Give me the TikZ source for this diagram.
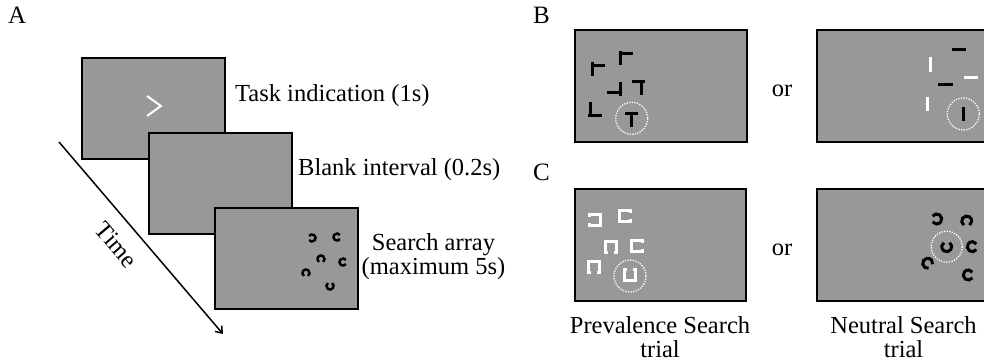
\documentclass[tikz,border=0pt]{standalone}
\usepackage{fontspec}
\setmainfont{Liberation Serif}
\usetikzlibrary{arrows.meta}
\definecolor{screen}{RGB}{152,152,152}
\tikzset{
  panel/.style={draw=black, line width=1.4pt, fill=screen, inner sep=0pt, outer sep=0pt, anchor=north west},
  lbl/.style={font=\fontsize{24.5}{28}\selectfont, inner sep=0pt},
  letter/.style={font=\fontsize{25}{30}\selectfont, inner sep=0pt, anchor=base west},
  bar/.style={line width=3pt},
  ringline/.style={line width=2.4pt, black},
  bigring/.style={line width=3pt, black},
  sqline/.style={line width=3pt, white, line join=miter},
  target/.style={white, line width=1.3pt, dash pattern=on 1.3pt off 1.3pt},
  timeline/.style={line width=1.5pt, -{Straight Barb[length=6pt,width=9pt]}},
}
% Landolt ring: x, y, opening angle (page, counter-clockwise), radius, style
\newcommand\landolt[5]{%
  \begin{scope}[shift={(#1,#2)}, rotate=#3]
    \draw[#5] (35:#4) arc[start angle=35, end angle=325, radius=#4];
  \end{scope}}
% Square C: x, y, opening angle
\newcommand\squarec[3]{%
  \begin{scope}[shift={(#1,#2)}, rotate=#3]
    \draw[sqline] (5.5,2.6) -- (5.5,5.5) -- (-5.5,5.5) -- (-5.5,-5.5) -- (5.5,-5.5) -- (5.5,-2.6);
  \end{scope}}
\begin{document}
\begin{tikzpicture}[x=1pt, y=-1pt]
\useasboundingbox (0,0) rectangle (984,361);
\clip (0,0) rectangle (984,361);

% ---------- A: trial sequence ----------
\node[letter] (labA) at (8,24) {A};
\node[panel, minimum width=143pt, minimum height=101pt] (task) at (82,58) {};
\draw[white, line width=2pt] (147,96) -- (161,106) -- (147,116);
\node[panel, minimum width=143pt, minimum height=101pt] (blank) at (149,133) {};
\node[panel, minimum width=143pt, minimum height=101pt] (search) at (215,208) {};
\landolt{312}{238}{180}{3.6}{ringline}
\landolt{337}{237}{0}{3.6}{ringline}
\landolt{321}{259}{270}{3.6}{ringline}
\landolt{343}{262}{0}{3.6}{ringline}
\landolt{306}{273}{270}{3.6}{ringline}
\landolt{330}{286}{90}{3.6}{ringline}

\node[lbl, anchor=base west] (taskl) at (235,101) {Task indication (1s)};
\node[lbl, anchor=base west] (blankl) at (298,175) {Blank interval (0.2s)};
\node[lbl, anchor=base] (searchl1) at (433.5,250) {Search array};
\node[lbl, anchor=base] (searchl2) at (433.5,274) {(maximum 5s)};

\coordinate (t0) at (59,142);
\coordinate (t1) at (223,334);
\draw[timeline] (t0) -- (t1);
\node[lbl, rotate=-49.5] (time) at (116.5,245) {Time};

% ---------- B: T among offset Ls ----------
\node[letter] (labB) at (533,24) {B};
\node[panel, minimum width=172pt, minimum height=112pt] (bl) at (575,30) {};
\draw[bar] (592.7,61.7) -- (592.7,76);   \draw[bar] (592.7,65) -- (605,65);
\draw[bar] (620,50.7) -- (620,65);       \draw[bar] (620,54) -- (632.7,54);
\draw[bar] (606.7,92.3) -- (620,92.3);   \draw[bar] (620,81.7) -- (620,96);
\draw[bar] (631.7,81.7) -- (645,81.7);   \draw[bar] (641,81.7) -- (641,95);
\draw[bar] (590.7,101.7) -- (590.7,116); \draw[bar] (587.7,115) -- (601.7,115);
\draw[bar] (625,113.3) -- (638.3,113.3); \draw[bar] (631.7,113.3) -- (631.7,126.7);
\draw[target] (631.7,118.3) circle[radius=16];
\node[lbl, anchor=base] (orB) at (782,96) {or};
\node[panel, minimum width=172pt, minimum height=112pt] (br) at (817,30) {};
\draw[bar, black] (951.7,50) -- (965.7,50);
\draw[bar, white] (930.7,57.3) -- (930.7,71.7);
\draw[bar, white] (964,77.3) -- (978.3,77.3);
\draw[bar, black] (938.3,84.3) -- (953.3,84.3);
\draw[bar, white] (927.3,96.7) -- (927.3,111);
\draw[bar, black] (963.3,106.7) -- (963.3,120.7);
\draw[target] (963.3,114) circle[radius=16];

% ---------- C: square Cs and Landolt rings ----------
\node[letter] (labC) at (533,180) {C};
\node[panel, minimum width=171pt, minimum height=112pt] (cl) at (575,189) {};
\squarec{595}{220}{180}
\squarec{624.5}{216}{0}
\squarec{611}{247}{270}
\squarec{636.5}{246}{0}
\squarec{594}{267}{270}
\squarec{630}{275}{90}
\draw[target] (630,276) circle[radius=16];
\node[lbl, anchor=base] (orC) at (782,255) {or};
\node[panel, minimum width=172pt, minimum height=112pt] (cr) at (817,189) {};
\landolt{936.7}{219}{180}{5}{bigring}
\landolt{966.7}{221}{270}{5}{bigring}
\landolt{946.7}{246.7}{90}{5}{bigring}
\landolt{972.3}{246.7}{0}{5}{bigring}
\landolt{927.7}{263.3}{315}{5}{bigring}
\landolt{968.3}{275}{0}{5}{bigring}
\draw[target] (946.7,246.7) circle[radius=15.5];

\node[lbl, anchor=base] (capP1) at (660,333) {Prevalence Search};
\node[lbl, anchor=base] (capP2) at (660,357) {trial};
\node[lbl, anchor=base] (capN1) at (903.5,333) {Neutral Search};
\node[lbl, anchor=base] (capN2) at (903.5,357) {trial};
\end{tikzpicture}
\end{document}
